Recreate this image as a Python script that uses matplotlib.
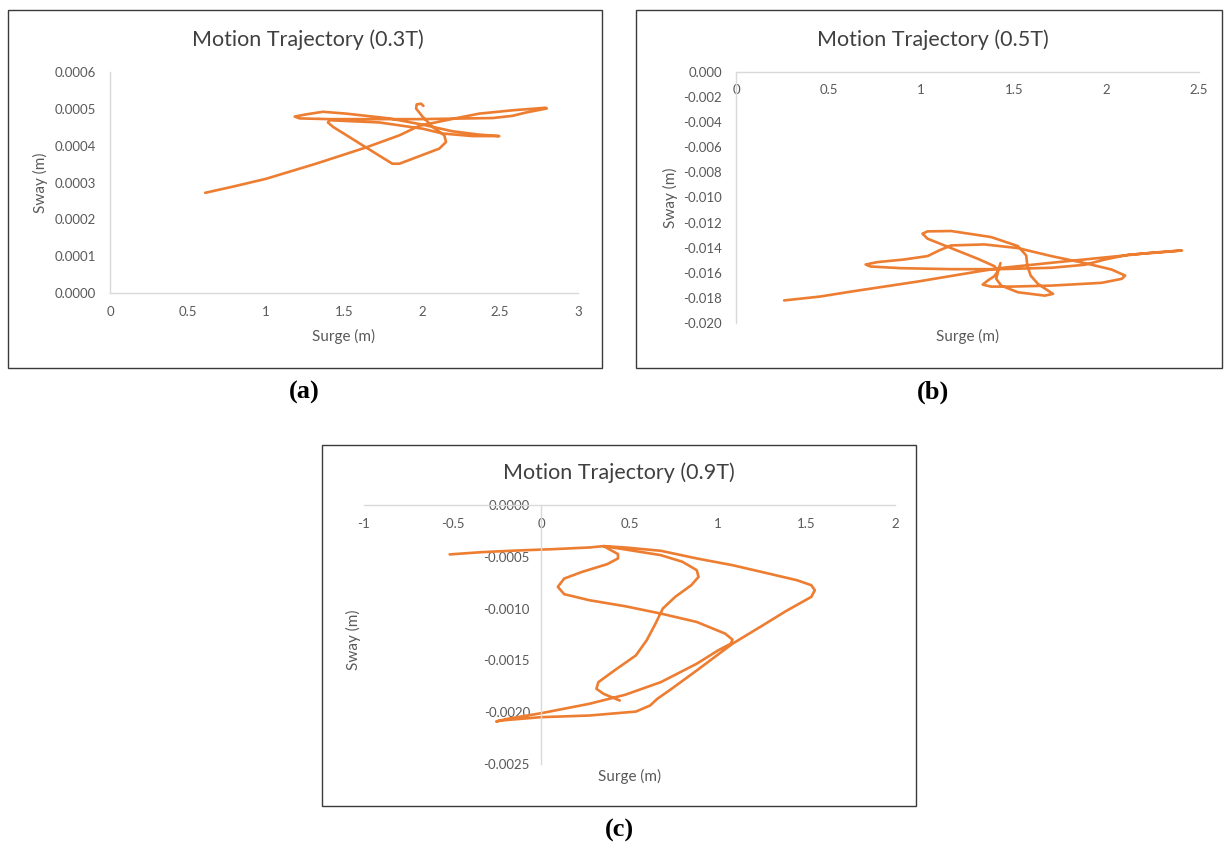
import matplotlib
matplotlib.use("Agg")
import matplotlib.pyplot as plt
from matplotlib.patches import Rectangle
from matplotlib.ticker import FuncFormatter

# ---------------- data ----------------
titles = ["Motion Trajectory (0.3T)", "Motion Trajectory (0.5T)", "Motion Trajectory (0.9T)"]
captions = ["(a)", "(b)", "(c)"]
xlabel = "Surge (m)"
ylabel = "Sway (m)"

surge_a = [0.61, 0.79, 1.00, 1.32, 1.64, 1.855, 1.983, 2.20, 2.367, 2.58, 2.794, 2.80,
           2.666, 2.58, 2.452, 1.983, 1.408, 1.216, 1.184, 1.258, 1.365, 1.514, 1.79,
           2.005, 2.196, 2.367, 2.495, 2.324, 2.132, 2.005, 1.727, 1.408, 1.397, 1.43,
           1.642, 1.81, 1.855, 2.111, 2.154, 2.143, 2.068, 2.005, 1.962, 1.966, 1.994, 2.009]
sway_a = [0.000272, 0.000289, 0.000310, 0.000351, 0.000395, 0.000428, 0.000454, 0.000473,
          0.000487, 0.000496, 0.000503, 0.000501, 0.000490, 0.000481, 0.000475, 0.000472,
          0.000472, 0.000474, 0.000479, 0.000485, 0.000492, 0.000487, 0.000474, 0.000457,
          0.000439, 0.000430, 0.000426, 0.000426, 0.000433, 0.000446, 0.000463, 0.000469,
          0.000463, 0.000451, 0.000395, 0.000351, 0.000351, 0.000392, 0.000410, 0.000428,
          0.000451, 0.000478, 0.000501, 0.000512, 0.000514, 0.000508]

surge_b = [0.26, 0.45, 0.62, 0.80, 0.98, 1.305, 1.423, 1.703, 2.064, 2.245, 2.408,
           2.281, 2.119, 1.992, 1.884, 1.703, 1.423, 1.161, 0.889, 0.727, 0.700,
           0.763, 0.907, 1.034, 1.097, 1.161, 1.341, 1.522, 1.703, 1.884, 2.028, 2.101,
           2.083, 1.974, 1.703, 1.486, 1.377, 1.332, 1.359, 1.395, 1.414,
           1.395, 1.305, 1.161, 1.034, 1.007, 1.034, 1.161, 1.377, 1.522, 1.567, 1.573,
           1.591, 1.630, 1.685, 1.712, 1.667, 1.522, 1.432, 1.405, 1.414, 1.428]
sway_b = [-0.0182, -0.0179, -0.0175, -0.0171, -0.0167, -0.0159, -0.01563, -0.0152, -0.01467,
          -0.0144, -0.01422,
          -0.01438, -0.01456, -0.01494, -0.01536, -0.0156, -0.01571, -0.01571, -0.01563,
          -0.0155, -0.01534,
          -0.01515, -0.01494, -0.01467, -0.01422, -0.01382, -0.01374, -0.01403, -0.01467,
          -0.01523, -0.01574, -0.01622, -0.01648, -0.0168, -0.01702, -0.0171, -0.0171,
          -0.01694, -0.01662, -0.01627, -0.01587,
          -0.01547, -0.01488, -0.01403, -0.01328, -0.01288, -0.0127, -0.01267, -0.01315,
          -0.01387, -0.01462, -0.01542, -0.01622, -0.01688, -0.01742, -0.01768, -0.01782,
          -0.01755, -0.01702, -0.01648, -0.01595, -0.01523]

surge_c = [-0.516, -0.334, -0.131, 0.071, 0.273, 0.354,
           0.475, 0.677, 0.880, 1.082, 1.284, 1.446, 1.527, 1.547, 1.527, 1.385, 1.244,
           1.082, 0.880, 0.738, 0.657, 0.617, 0.536, 0.273, 0.0, -0.233, -0.253,
           -0.192, 0.0, 0.273, 0.475, 0.677, 0.880, 1.001, 1.072, 1.082, 1.041, 0.880,
           0.677, 0.475, 0.273, 0.131, 0.095, 0.131, 0.233, 0.374, 0.435, 0.435, 0.394, 0.354,
           0.475, 0.677, 0.799, 0.880, 0.890, 0.849, 0.758, 0.688, 0.647, 0.597, 0.536,
           0.415, 0.324, 0.313, 0.354, 0.445]
sway_c = [-0.000477, -0.000455, -0.000439, -0.000426, -0.000410, -0.000397,
          -0.000410, -0.000442, -0.000516, -0.000581, -0.000661, -0.000726, -0.000774,
          -0.000823, -0.000887, -0.001023, -0.001171, -0.001339, -0.001597, -0.001774,
          -0.001871, -0.001935, -0.001994, -0.002032, -0.002048, -0.002081, -0.002090,
          -0.002065, -0.002010, -0.001919, -0.001832, -0.001710, -0.001532, -0.001403,
          -0.001339, -0.001300, -0.001242, -0.001129, -0.001048, -0.000977, -0.000919,
          -0.000861, -0.000790, -0.000710, -0.000645, -0.000571, -0.000516, -0.000474,
          -0.000435, -0.000397,
          -0.000429, -0.000484, -0.000548, -0.000629, -0.000694, -0.000774, -0.000887,
          -0.001000, -0.001145, -0.001306, -0.001452, -0.001597, -0.001710, -0.001774,
          -0.001823, -0.001887]

xticks_a = [0, 0.5, 1, 1.5, 2, 2.5, 3]
yticks_a = [0.0, 0.0001, 0.0002, 0.0003, 0.0004, 0.0005, 0.0006]
xticks_b = [0, 0.5, 1, 1.5, 2, 2.5]
yticks_b = [0.0, -0.002, -0.004, -0.006, -0.008, -0.010, -0.012, -0.014, -0.016, -0.018, -0.020]
xticks_c = [-1, -0.5, 0, 0.5, 1, 1.5, 2]
yticks_c = [0.0, -0.0005, -0.0010, -0.0015, -0.0020, -0.0025]

# ---------------- style ----------------
plt.rcParams["font.family"] = ["Lato", "DejaVu Sans"]
plt.rcParams["axes.unicode_minus"] = False
ORANGE = "#ED7D31"
GRID = "#D9D9D9"
TXT = "#595959"
W, H = 1224, 843

fig = plt.figure(figsize=(W / 100, H / 100), dpi=100)


def px_axes(l, r, t, b):
    return fig.add_axes([l / W, 1 - b / H, (r - l) / W, (b - t) / H])


def frame(l, r, t, b):
    fig.add_artist(Rectangle((l / W, 1 - b / H), (r - l) / W, (b - t) / H,
                             transform=fig.transFigure, fill=False,
                             edgecolor="#3a3a3a", lw=1.0))


def gfmt(v, _):
    return f"{v:g}"


def style(ax, xs, ys, xt, yt, ydec, xlim, ylim, title, tpos, xlab_y, ylab_pos, ypad, xpad):
    ax.plot(xs, ys, color=ORANGE, lw=1.9,
            solid_joinstyle="round", solid_capstyle="round")
    ax.set_xlim(*xlim)
    ax.set_ylim(*ylim)
    ax.set_xticks(xt)
    ax.set_yticks(yt)
    ax.xaxis.set_major_formatter(FuncFormatter(gfmt))
    ax.yaxis.set_major_formatter(FuncFormatter(lambda v, _: f"{v:.{ydec}f}"))
    ax.tick_params(length=0, labelsize=9.5, labelcolor=TXT)
    ax.tick_params(axis="y", pad=ypad)
    ax.tick_params(axis="x", pad=xpad)
    for s in ("top", "right"):
        ax.spines[s].set_visible(False)
    for s in ("left", "bottom"):
        ax.spines[s].set_color(GRID)
        ax.spines[s].set_linewidth(1.0)
    ax.patch.set_alpha(0)
    ax.set_title(title, x=tpos[0], y=tpos[1], va="center", pad=0,
                 fontsize=15.5, color="#404040")
    ax.set_xlabel(xlabel, fontsize=11, color=TXT)
    ax.xaxis.label.set_va("center")
    ax.xaxis.set_label_coords(0.5, xlab_y)
    ax.set_ylabel(ylabel, fontsize=11, color=TXT)
    ax.yaxis.label.set_va("center")
    ax.yaxis.set_label_coords(*ylab_pos)


# frames
frame(8, 602, 10, 368)
frame(636, 1222, 10, 368)
frame(322, 916, 445, 806)

ax_a = px_axes(110, 578, 72, 293)
ax_b = px_axes(736, 1199, 72, 323)
ax_c = px_axes(364, 895, 505, 764)

style(ax_a, surge_a, sway_a, xticks_a, yticks_a, 4, (0, 3), (0, 0.0006), titles[0],
      ((308 - 110) / 468, (293 - 40) / 221), (293 - 336) / 221, ((40 - 110) / 468, 0.5), 10, 9)

ax_b.spines["bottom"].set_position(("data", 0))
style(ax_b, surge_b, sway_b, xticks_b, yticks_b, 3, (0, 2.5), (-0.020, 0), titles[1],
      ((933 - 736) / 463, (323 - 40) / 251), (323 - 336) / 251, ((670 - 736) / 463, 0.5), 10, 9)

ax_c.spines["bottom"].set_position(("data", 0))
ax_c.spines["left"].set_position(("data", 0))
style(ax_c, surge_c, sway_c, xticks_c, yticks_c, 4, (-1, 2), (-0.0025, 0), titles[2],
      ((619 - 364) / 531, (764 - 473) / 259), (764 - 776) / 259,
      ((353 - 364) / 531, (764 - 640) / 259), 8, 9)

# captions
for cap, (cx, cy) in zip(captions, [(304, 392), (933, 392), (619, 830)]):
    fig.text(cx / W, 1 - cy / H, cap, ha="center", va="center",
             fontsize=19, fontweight="bold", family="Liberation Serif", color="black")

fig.savefig("out.png", dpi=100)
